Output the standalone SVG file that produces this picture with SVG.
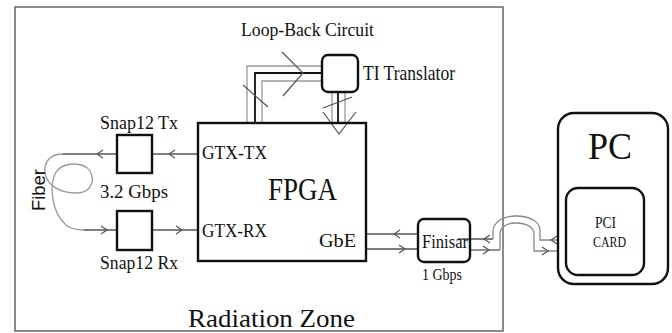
<svg xmlns="http://www.w3.org/2000/svg" width="672" height="333" viewBox="0 0 672 333">
<style>
text{font-family:"Liberation Serif","Times New Roman",serif;fill:#111}
.box{fill:none;stroke:#111;stroke-width:2.4}
.ln{fill:none;stroke:#555;stroke-width:1.3}
.lg{fill:none;stroke:#999;stroke-width:1.3}
.lb{fill:none;stroke:#111;stroke-width:1.8}
.ah{fill:none;stroke:#555;stroke-width:1.2}
.cab{fill:none;stroke:#888;stroke-width:1.3}
</style>
<rect width="672" height="333" fill="#fff"/>
<g id="zone">
<rect x="15" y="7" width="488" height="324" fill="none" stroke="#666" stroke-width="1.5"/>
<text x="188" y="327" font-size="25" textLength="167" lengthAdjust="spacingAndGlyphs">Radiation Zone</text>
</g>
<g id="connectors">
<path class="ln" d="M198,154 H152"/>
<path class="ah" d="M175,150 L169,154 L175,158"/>
<path class="ln" d="M117,154 H63"/>
<path class="ah" d="M103,150 L97,154 L103,158"/>
<path class="lg" d="M63,154 C50,154 44,162 45,172 C46,185 60,193 76,193 C90,193 96,182 90,171 C84,162 64,161 56,172 C49,184 51,212 66,225 C71,229 76,230 84,230"/>
<path class="ln" d="M84,230 H117"/>
<path class="ah" d="M101,226 L107,230 L101,234"/>
<path class="ln" d="M152,230 H198"/>
<path class="ah" d="M176,226 L182,230 L176,234"/>
<path class="lg" d="M247,123 V66 H322"/>
<path class="lb" d="M255,123 V73 H322"/>
<path class="lg" d="M262,123 V81 H322"/>
<path class="ah" d="M282,52 L303,73 L283,96"/>
<path class="ah" d="M243,85 L268,107"/>
<path class="lg" d="M332,92 V123"/>
<path class="lb" d="M338,92 V123"/>
<path class="lg" d="M345,92 V123"/>
<path class="ah" d="M323,112 L339,134 L356,112"/>
<path class="ah" d="M323,108 L352,97"/>
<path class="ln" d="M366,234 H418"/>
<path class="ah" d="M400,230 L394,234 L400,238"/>
<path class="ln" d="M366,249 H418"/>
<path class="ah" d="M399,245 L405,249 L399,253"/>
<path class="ln" d="M458,239 H493"/>
<path class="ah" d="M490,235 L484,239 L490,243"/>
<path class="ln" d="M470,250 H500"/>
<path class="ah" d="M483,246 L489,250 L483,254"/>
<path class="cab" d="M493,239 V232 C493,222 503,216 516,216 C530,216 540,222 540,230 V240 H558"/>
<path class="cab" d="M500,250 V234 C500,227 507,223 516,223 C526,223 534,227 534,234 V251 H558"/>
<path class="ah" d="M557,236 L551,240 L557,244"/>
<path class="ah" d="M542,247 L548,251 L542,255"/>
</g>
<g id="fpga">
<rect class="box" x="198" y="123" width="168" height="138"/>
<text x="202" y="159" font-size="18" textLength="65" lengthAdjust="spacingAndGlyphs">GTX-TX</text>
<text x="202" y="237" font-size="18" textLength="65" lengthAdjust="spacingAndGlyphs">GTX-RX</text>
<text x="268" y="200" font-size="31" textLength="69" lengthAdjust="spacingAndGlyphs">FPGA</text>
<text x="319" y="247" font-size="19" textLength="37" lengthAdjust="spacingAndGlyphs">GbE</text>
</g>
<g id="snapTx">
<rect class="box" x="117" y="135" width="35" height="38"/>
<text x="100" y="129" font-size="18" textLength="78" lengthAdjust="spacingAndGlyphs">Snap12 Tx</text>
<text x="100" y="198" font-size="19" textLength="68" lengthAdjust="spacingAndGlyphs">3.2 Gbps</text>
</g>
<g id="snapRx">
<rect class="box" x="117" y="211" width="35" height="39"/>
<text x="100" y="269" font-size="18" textLength="78" lengthAdjust="spacingAndGlyphs">Snap12 Rx</text>
</g>
<g id="fiber">
<text transform="translate(45,190) rotate(-90)" text-anchor="middle" font-size="19" textLength="42" lengthAdjust="spacingAndGlyphs" style="font-family:'Liberation Sans',Arial,sans-serif">Fiber</text>
</g>
<g id="loopback">
<text x="241" y="36" font-size="19" textLength="133" lengthAdjust="spacingAndGlyphs">Loop-Back Circuit</text>
</g>
<g id="ti">
<rect class="box" x="322" y="55" width="36" height="37" rx="6"/>
<text x="363" y="80" font-size="21" textLength="92" lengthAdjust="spacingAndGlyphs">TI Translator</text>
</g>
<g id="finisar">
<rect class="box" x="418" y="219" width="52" height="43" rx="6"/>
<text x="422" y="248" font-size="19" textLength="46" lengthAdjust="spacingAndGlyphs">Finisar</text>
<text x="422" y="280" font-size="16" textLength="40" lengthAdjust="spacingAndGlyphs">1 Gbps</text>
</g>
<g id="pc">
<rect class="box" x="558" y="113" width="110" height="171" rx="16"/>
<text x="588" y="159" font-size="38" textLength="44" lengthAdjust="spacingAndGlyphs">PC</text>
</g>
<g id="pci">
<rect class="box" x="566" y="188" width="78" height="87" rx="12"/>
<text x="595" y="228" font-size="16" textLength="21" lengthAdjust="spacingAndGlyphs">PCI</text>
<text x="593" y="247" font-size="15" textLength="33" lengthAdjust="spacingAndGlyphs">CARD</text>
</g>
</svg>
